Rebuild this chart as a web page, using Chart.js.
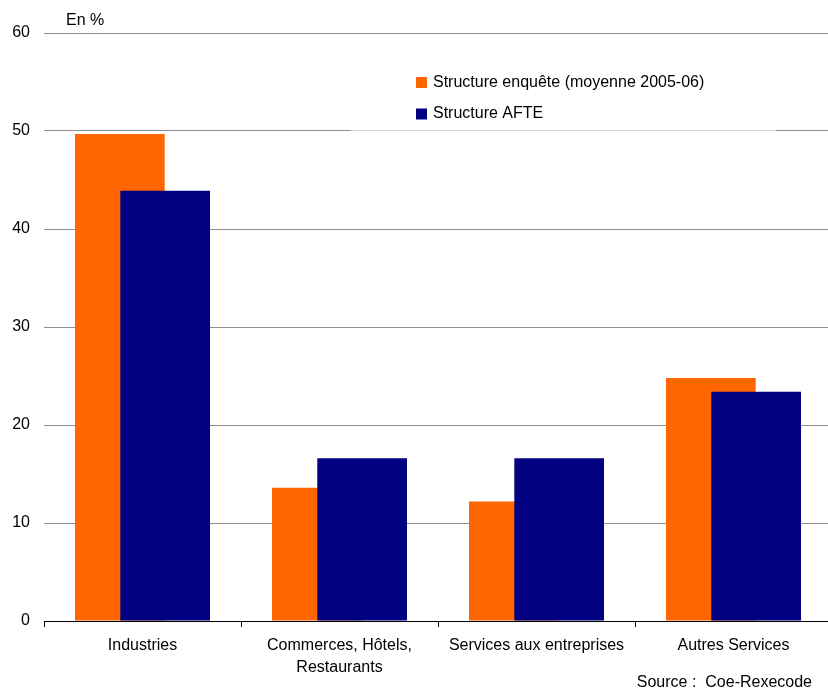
<!DOCTYPE html>
<html>
<head>
<meta charset="utf-8">
<script src="https://cdn.jsdelivr.net/npm/chart.js@4"></script>
<style>
html,body{margin:0;padding:0;background:#fff;overflow:hidden}
#wrap{width:828px;height:690px;overflow:hidden}
</style>
</head>
<body>
<div id="wrap"><canvas id="chart" width="832" height="690"></canvas></div>
<script>
const categories = ["Industries", ["Commerces, Hôtels,", "Restaurants"], "Services aux entreprises", "Autres Services"]
const enquete = [49.7, 13.6, 12.2, 24.8]
const afte = [43.9, 16.6, 16.6, 23.4]
const seriesNames = ["Structure enquête (moyenne 2005-06)", "Structure AFTE"]
const colors = ["#ff6600", "#000080"]
const yTicks = [0, 10, 20, 30, 40, 50, 60]

const FONT = "'Liberation Sans', Arial, sans-serif"

// navy bars must sit over the orange ones: skip the normal pass, redraw after orange
const overlap = {
id: "overlap",
beforeDatasetDraw(c, args){
if(args.index===1 && !c._navyNow) return false
},
afterDatasetDraw(c, args){
if(args.index===0){
c._navyNow = true
const meta = c.getDatasetMeta(1)
c.ctx.save()
meta.controller.draw()
c.ctx.restore()
c._navyNow = false
}
}
}

// legend box, unit and source are drawn by hand
const extras = {
id: "extras",
afterDraw(c){
const ctx = c.ctx
ctx.save()
ctx.fillStyle = "rgba(255,255,255,0.6)"
ctx.fillRect(351, 50, 425, 82)
ctx.font = "16px " + FONT
ctx.textBaseline = "middle"
ctx.textAlign = "left"
const ys = [82.5, 114]
c.data.datasets.forEach((ds,i)=>{
ctx.fillStyle = ds.backgroundColor
ctx.fillRect(416, ys[i]-5.5, 11, 11)
ctx.fillStyle = "#000"
ctx.fillText(ds.label, 433, ys[i])
})
ctx.fillText("En %", 66, 21)
ctx.textAlign = "right"
ctx.fillText("Source :  Coe-Rexecode", 812, 683)
ctx.restore()
}
}

chart = new Chart(document.getElementById("chart"), {
type: "bar",
data: {
labels: categories,
datasets: [
{ label: seriesNames[0], data: enquete, backgroundColor: colors[0] },
{ label: seriesNames[1], data: afte, backgroundColor: colors[1] }
]
},
options: {
responsive: false,
animation: false,
categoryPercentage: 0.46,
barPercentage: 1.98,
layout: { padding: { top: 33, right: 0, left: 0, bottom: 0 } },
plugins: { legend: { display: false }, tooltip: { enabled: false } },
scales: {
x: {
grid: { offset: true, drawOnChartArea: false, color: "#000", tickLength: 6 },
border: { color: "#000", width: 1 },
ticks: { color: "#000", font: { family: FONT, size: 16, lineHeight: 1.4 }, padding: 7, maxRotation: 0, autoSkip: false },
afterFit(s){ s.height = 69 }
},
y: {
min: 0, max: 60,
afterBuildTicks(s){ s.ticks = yTicks.map(v=>({value:v})) },
grid: { color: "#8f8f8f", drawTicks: false },
border: { display: false },
ticks: { color: "#000", font: { family: FONT, size: 16 }, padding: 14 },
afterFit(s){ s.width = 44 }
}
}
},
plugins: [overlap, extras]
})
</script>
</body>
</html>
